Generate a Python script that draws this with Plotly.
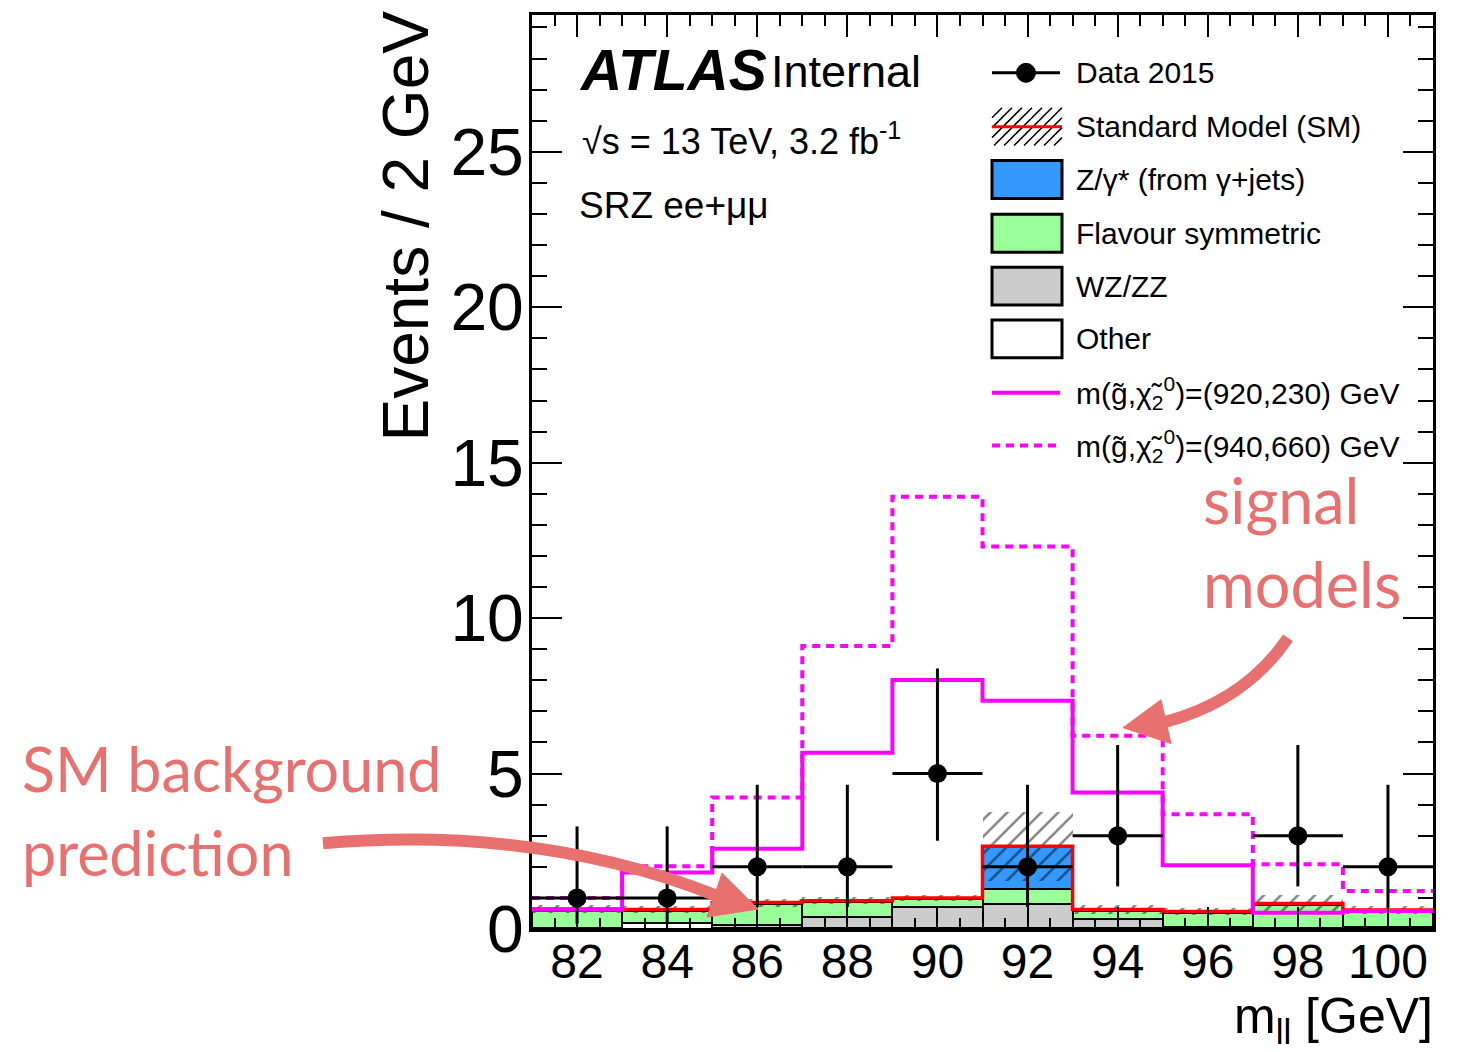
import numpy as np
import plotly.graph_objects as go

# ---------------- data ----------------
bin_centers = [82, 84, 86, 88, 90, 92, 94, 96, 98, 100]
bin_width = 2.0

data_counts = [1, 1, 2, 2, 5, 2, 3, 0, 3, 2]
data_err_up = [2.30, 2.30, 2.64, 2.64, 3.38, 2.64, 2.92, 0.0, 2.92, 2.64]
data_err_down = [0.83, 0.83, 1.29, 1.29, 2.16, 1.29, 1.63, 0.0, 1.63, 1.29]

bkg_other = [0.02, 0.18, 0.04, 0.03, 0.03, 0.03, 0.02, 0.02, 0.02, 0.02]
bkg_wzzz = [0.00, 0.00, 0.10, 0.37, 0.69, 0.77, 0.29, 0.03, 0.00, 0.03]
bkg_flavsym = [0.56, 0.39, 0.68, 0.48, 0.23, 0.48, 0.27, 0.45, 0.76, 0.52]
bkg_zgamma = [0.06, 0.06, 0.03, 0.03, 0.05, 1.38, 0.05, 0.06, 0.04, 0.04]
sm_uncert = [0.13, 0.12, 0.13, 0.12, 0.10, 1.10, 0.14, 0.12, 0.27, 0.13]

sig_920_230 = [0.62, 1.82, 2.58, 5.67, 8.01, 7.34, 4.39, 2.05, 0.52, 0.58]
sig_940_660 = [1.00, 2.02, 4.23, 9.10, 13.90, 12.30, 6.22, 3.69, 2.08, 1.22]

x_tick_vals = [82, 84, 86, 88, 90, 92, 94, 96, 98, 100]
y_tick_vals = [0, 5, 10, 15, 20, 25]

legend_labels = [
    "Data 2015",
    "Standard Model (SM)",
    "Z/γ* (from γ+jets)",
    "Flavour symmetric",
    "WZ/ZZ",
    "Other",
    "m(g̃,χ̃<sub>2</sub><sup>0</sup>)=(920,230) GeV",
    "m(g̃,χ̃<sub>2</sub><sup>0</sup>)=(940,660) GeV",
]

# ---------------- helpers ----------------
W, H = 1459, 1052
L, R, T, B = 532, 1433, 12, 929


def px(x):
    return (x - L) / (R - L)


def py(y):
    return (B - y) / (B - T)


FONT = "Liberation Sans, Arial, sans-serif"
PINK = "#E8706E"
MAGENTA = "#FF00FF"
GREEN = "#99FF99"
BLUE = "#3399FF"
GREY = "#CCCCCC"

centers = np.array(bin_centers, dtype=float)
edges = np.append(centers - bin_width / 2, centers[-1] + bin_width / 2)
comps = [
    (np.array(bkg_other), "white"),
    (np.array(bkg_wzzz), GREY),
    (np.array(bkg_flavsym), GREEN),
    (np.array(bkg_zgamma), BLUE),
]

fig = go.Figure()

base = np.zeros(len(centers))
for vals, col in comps:
    fig.add_trace(go.Bar(
        x=centers, y=vals, base=base.copy(), width=[bin_width] * len(centers),
        marker=dict(color=col, line=dict(color="black", width=2)),
        opacity=1, showlegend=False, hoverinfo="skip",
    ))
    base = base + vals
total = base
unc = np.array(sm_uncert)

fig.add_trace(go.Bar(
    x=centers, y=2 * unc, base=total - unc, width=[bin_width] * len(centers),
    marker=dict(color="rgba(0,0,0,0)", line=dict(width=0),
                pattern=dict(shape="/", fgcolor="black", bgcolor="rgba(0,0,0,0)",
                             size=12, solidity=0.2, fillmode="overlay")),
    opacity=1, showlegend=False, hoverinfo="skip",
))

fig.add_trace(go.Scatter(
    x=edges, y=np.append(total, total[-1]), mode="lines", line_shape="hv",
    line=dict(color="red", width=3.5), showlegend=False, hoverinfo="skip",
))

s1 = np.array(sig_920_230)
s2 = np.array(sig_940_660)
fig.add_trace(go.Scatter(
    x=edges, y=np.append(s1, s1[-1]), mode="lines", line_shape="hv",
    line=dict(color=MAGENTA, width=4), showlegend=False, hoverinfo="skip",
))
fig.add_trace(go.Scatter(
    x=edges, y=np.append(s2, s2[-1]), mode="lines", line_shape="hv",
    line=dict(color=MAGENTA, width=4, dash="8px,6px"), showlegend=False, hoverinfo="skip",
))

d = np.array(data_counts, dtype=float)
mask = d > 0
fig.add_trace(go.Scatter(
    x=centers[mask], y=d[mask], mode="markers",
    marker=dict(color="black", size=19),
    error_y=dict(type="data", symmetric=False, array=np.array(data_err_up)[mask],
                 arrayminus=np.array(data_err_down)[mask], thickness=3, width=0, color="black"),
    error_x=dict(type="constant", value=bin_width / 2, thickness=3, width=0, color="black"),
    showlegend=False, hoverinfo="skip",
))

# ---------------- layout ----------------
shapes = []
annotations = []

# legend
rows = [70, 124, 177, 231, 284, 337, 391, 444]
bx0, bx1, bh = 992, 1062, 19
for i, (lab, ry) in enumerate(zip(legend_labels, rows)):
    annotations.append(dict(x=px(1074), y=py(ry), xref="paper", yref="paper", text=lab,
                            showarrow=False, xanchor="left", yanchor="middle",
                            font=dict(family=FONT, size=30, color="black")))

# data entry
shapes.append(dict(type="line", xref="paper", yref="paper", x0=px(992), x1=px(1060),
                   y0=py(70), y1=py(70), line=dict(color="black", width=3)))
shapes.append(dict(type="circle", xref="paper", yref="paper", x0=px(1016.5), x1=px(1035.5),
                   y0=py(79.5), y1=py(60.5), fillcolor="black", line=dict(color="black", width=1)))
# SM entry hatch
a, b_, c, dd = bx0, bx1, rows[1] - bh, rows[1] + bh
segs = []
s = a - (dd - c)
while s < b_:
    t0 = max(0, a - s)
    t1 = min(dd - c, b_ - s)
    if t1 > t0:
        segs.append(f"M{px(s + t0)},{py(dd - t0)} L{px(s + t1)},{py(dd - t1)}")
    s += 10
shapes.append(dict(type="path", xref="paper", yref="paper", path=" ".join(segs),
                   line=dict(color="black", width=1.5)))
shapes.append(dict(type="line", xref="paper", yref="paper", x0=px(992), x1=px(1062),
                   y0=py(rows[1]), y1=py(rows[1]), line=dict(color="red", width=3)))
# box entries
for ry, col in zip(rows[2:6], [BLUE, GREEN, GREY, "white"]):
    shapes.append(dict(type="rect", xref="paper", yref="paper", x0=px(bx0), x1=px(bx1),
                       y0=py(ry + bh), y1=py(ry - bh), fillcolor=col,
                       line=dict(color="black", width=3)))
# signal entries
shapes.append(dict(type="line", xref="paper", yref="paper", x0=px(992), x1=px(1060),
                   y0=py(rows[6]), y1=py(rows[6]), line=dict(color=MAGENTA, width=4)))
shapes.append(dict(type="line", xref="paper", yref="paper", x0=px(992), x1=px(1060),
                   y0=py(rows[7]), y1=py(rows[7]), line=dict(color=MAGENTA, width=4, dash="8px,6px")))

# ATLAS labels
annotations += [
    dict(x=px(577), y=py(67), xref="paper", yref="paper", text="<b><i>ATLAS</i></b>",
         showarrow=False, xanchor="left", yanchor="middle", font=dict(family=FONT, size=57, color="black")),
    dict(x=px(769), y=py(69), xref="paper", yref="paper", text="Internal",
         showarrow=False, xanchor="left", yanchor="middle", font=dict(family=FONT, size=45, color="black")),
    dict(x=px(580), y=py(136), xref="paper", yref="paper", text="√s = 13 TeV, 3.2 fb<sup>-1</sup>",
         showarrow=False, xanchor="left", yanchor="middle", font=dict(family=FONT, size=36, color="black")),
    dict(x=px(577), y=py(203), xref="paper", yref="paper", text="SRZ ee+μμ",
         showarrow=False, xanchor="left", yanchor="middle", font=dict(family=FONT, size=37, color="black")),
]

# axis titles
annotations += [
    dict(x=px(406), y=py(6), xref="paper", yref="paper", text="Events / 2 GeV", textangle=-90,
         showarrow=False, xanchor="center", yanchor="top", font=dict(family=FONT, size=64, color="black")),
    dict(x=px(1435), y=py(1020), xref="paper", yref="paper", text="m<sub>ll</sub> [GeV]",
         showarrow=False, xanchor="right", yanchor="middle", font=dict(family=FONT, size=50, color="black")),
]

# pink call-outs
PFONT = "Lato, Open Sans, sans-serif"
annotations += [
    dict(x=px(20), y=py(768), xref="paper", yref="paper", text="SM background", showarrow=False,
         xanchor="left", yanchor="middle", font=dict(family=PFONT, size=61, color=PINK)),
    dict(x=px(20), y=py(852), xref="paper", yref="paper", text="prediction", showarrow=False,
         xanchor="left", yanchor="middle", font=dict(family=PFONT, size=61, color=PINK)),
    dict(x=px(1201), y=py(498), xref="paper", yref="paper", text="signal", showarrow=False,
         xanchor="left", yanchor="middle", font=dict(family=PFONT, size=63, color=PINK)),
    dict(x=px(1201), y=py(582), xref="paper", yref="paper", text="models", showarrow=False,
         xanchor="left", yanchor="middle", font=dict(family=PFONT, size=63, color=PINK)),
]


def P(x, y):
    return f"{px(x)},{py(y)}"


shapes += [
    dict(type="path", xref="paper", yref="paper", layer="above",
         path=f"M{P(323, 843)} Q{P(540, 825)} {P(715, 895)}",
         line=dict(color=PINK, width=12)),
    dict(type="path", xref="paper", yref="paper", layer="above",
         path=f"M{P(722, 873)} L{P(707, 917)} L{P(758, 909)} Z",
         fillcolor=PINK, line=dict(color=PINK, width=1)),
    dict(type="path", xref="paper", yref="paper", layer="above",
         path=f"M{P(1288, 637)} Q{P(1245, 700)} {P(1166, 721)}",
         line=dict(color=PINK, width=12)),
    dict(type="path", xref="paper", yref="paper", layer="above",
         path=f"M{P(1161, 699)} L{P(1171, 743)} L{P(1123, 727)} Z",
         fillcolor=PINK, line=dict(color=PINK, width=1)),
]

fig.update_layout(
    width=W, height=H, autosize=False,
    margin=dict(l=L, r=W - R, t=T, b=H - B, pad=0),
    paper_bgcolor="white", plot_bgcolor="white",
    barmode="overlay", bargap=0, showlegend=False,
    shapes=shapes, annotations=annotations,
    xaxis=dict(range=[edges[0], edges[-1]], showgrid=False, zeroline=False,
               showline=True, linecolor="black", linewidth=3, mirror="allticks",
               ticks="inside", ticklen=22, tickwidth=2, tickcolor="black",
               tickvals=x_tick_vals, ticktext=[str(v) for v in x_tick_vals],
               ticklabelstandoff=-12,
               tickfont=dict(family=FONT, size=48, color="black"),
               minor=dict(dtick=0.5, tick0=81, ticks="inside", ticklen=11, tickwidth=2, tickcolor="black")),
    yaxis=dict(range=[0, 29.4], showgrid=False, zeroline=False,
               showline=True, linecolor="black", linewidth=3, mirror="allticks",
               ticks="inside", ticklen=30, tickwidth=2, tickcolor="black",
               tickvals=y_tick_vals, ticktext=[str(v) for v in y_tick_vals],
               ticklabelstandoff=-8,
               tickfont=dict(family=FONT, size=66, color="black"),
               minor=dict(dtick=1, tick0=0, ticks="inside", ticklen=15, tickwidth=2, tickcolor="black")),
)

fig.write_html("out.html")
